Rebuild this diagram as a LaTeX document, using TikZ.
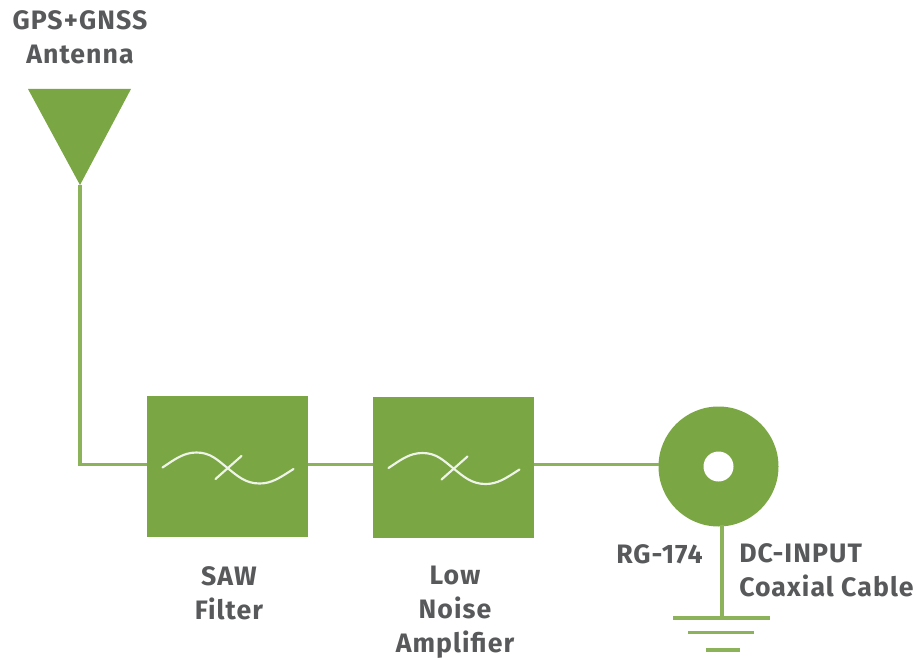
\documentclass[tikz,border=0pt]{standalone}
\usepackage{fontspec}
\setmainfont[LetterSpace=4]{Fira Sans}
\usetikzlibrary{calc}
\definecolor{grn}{HTML}{7BA644}
\definecolor{lgrn}{HTML}{8DB35A}
\definecolor{txt}{HTML}{58595B}
\tikzset{
  x=0.75pt,y=-0.75pt,
  block/.style={rectangle,draw=none,fill=grn,inner sep=0pt,minimum width=120.75pt,minimum height=105.75pt},
  wire/.style={draw=lgrn,line width=2.6pt},
  gbar/.style={draw=lgrn,line width=2.6pt},
  lbl/.style={text=txt,font=\fontsize{20}{25.6}\selectfont\bfseries,align=center,inner sep=0pt},
  lbll/.style={lbl,align=left},
  squig/.style={draw=white!88!grn,line width=1.6pt,line cap=round},
  ant/.style={draw=none,fill=grn},
  coax/.style={circle,fill=grn,inner sep=0pt,minimum size=90pt},
  hole/.style={circle,fill=white,inner sep=0pt,minimum size=22.5pt},
}
\newcommand{\filtersym}[1]{%
  \draw[squig] ($(#1)+(-65,1)$) .. controls +(12,-8) and +(-13,0) .. ($(#1)+(-31,-14)$)
     .. controls +(14,0) and +(-10,-8) .. ($(#1)+(0,1.5)$)
     .. controls +(10,8) and +(-14,0) .. ($(#1)+(32,17)$)
     .. controls +(12,0) and +(-14,9) .. ($(#1)+(66,2.5)$);
  \draw[squig] ($(#1)+(-12,12.5)$) -- ($(#1)+(14,-10.5)$);
}
\begin{document}
\begin{tikzpicture}
\useasboundingbox (0,0) rectangle (917,660);
\fill[white] (0,0) rectangle (917,660);
\coordinate (anttip) at (80,185);
\coordinate (corner) at (80,464.5);
\node[block] (saw) at (227.5,466.5) {};
\node[block] (lna) at (453.5,467) {};
\node[coax] (cx) at (718.5,466.5) {};
\node[hole] (cxh) at (718.5,466.5) {};
\coordinate (cxw) at (659,464.5);
\coordinate (sawe) at (saw.west |- corner);
\coordinate (cxb) at (722,525);
\coordinate (g1) at (722,618);
\coordinate (g1a) at (673,618);
\coordinate (g1b) at (770,618);
\coordinate (g2a) at (688,632.5);
\coordinate (g2b) at (754,632.5);
\coordinate (g3a) at (706,650);
\coordinate (g3b) at (740,650);
\draw[ant] (28,89) -- (131,89) -- (anttip) -- cycle;
\draw[wire] (anttip) -- (corner) -- (sawe);
\draw[wire] (saw.east |- corner) -- (lna.west |- corner);
\draw[wire] (lna.east |- corner) -- (cxw);
\draw[wire] (cxb) -- (g1);
\draw[gbar] (g1a) -- (g1b);
\draw[gbar] (g2a) -- (g2b);
\draw[gbar] (g3a) -- (g3b);
\filtersym{saw}
\filtersym{lna}
\node[lbl] (tant) at (80,37) {GPS+GNSS\\Antenna};
\node[lbl] (tsaw) at (229,593) {SAW\\Filter};
\node[lbl] (tlna) at (455,612) {Low\\Noise\\Amplifier};
\node[lbl,anchor=east] (trg) at (703,554) {RG-174};
\node[lbll,anchor=north west] (tdc) at (739,543.5) {DC-INPUT\\Coaxial Cable};
\end{tikzpicture}
\end{document}
